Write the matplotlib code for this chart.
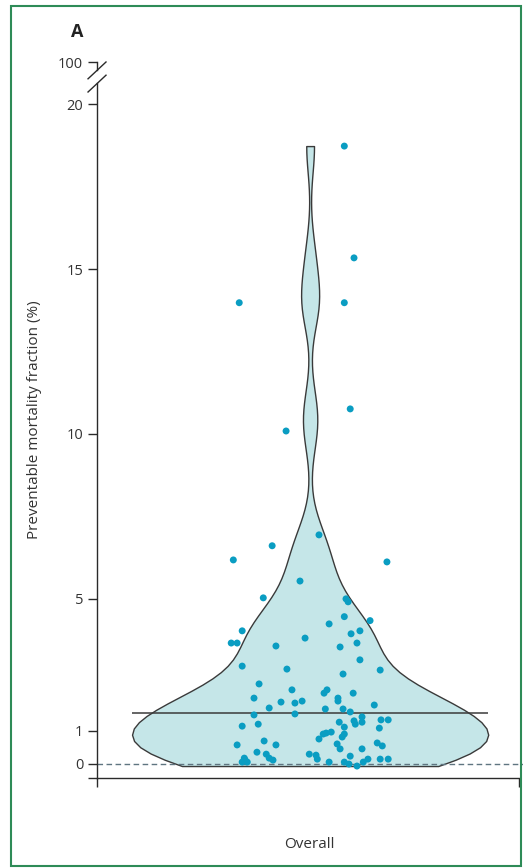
import numpy as np
import matplotlib
matplotlib.use('Agg')
import matplotlib.pyplot as plt
import matplotlib.transforms as mtransforms
from matplotlib.patches import Rectangle

plt.rcParams['font.family'] = ['Open Sans', 'DejaVu Sans']

# preventable mortality fraction (%) per site
values = [18.73, 15.34, 13.98, 13.98, 10.76, 10.09, 6.94, 6.61, 6.18, 6.12,
          5.54, 5.03, 5.00, 4.91, 4.46, 4.34, 4.24, 4.03, 3.94, 4.03,
          3.81, 3.66, 3.66, 3.57, 3.66, 3.54, 2.96, 3.15, 2.87, 2.84,
          2.72, 2.42, 2.24, 2.24, 2.14, 2.14, 1.99, 1.99, 1.90, 1.87,
          1.84, 1.90, 1.69, 1.66, 1.78, 1.66, 1.57, 1.48, 1.51, 1.42,
          1.26, 1.30, 1.20, 1.33, 1.33, 1.26, 1.11, 1.14, 1.20, 1.08,
          0.96, 0.90, 0.93, 0.90, 0.81, 0.75, 0.69, 0.57, 0.57, 0.60,
          0.45, 0.63, 0.54, 0.45, 0.35, 0.29, 0.17, 0.11, 0.29, 0.26,
          0.14, 0.23, 0.17, 0.05, 0.05, 0.11, 0.05, 0.05, -0.01, -0.07,
          0.05, 0.14, 0.14, 0.14]
# horizontal jitter of each point
jitter = [0.081, 0.104, -0.168, 0.081, 0.095, -0.057, 0.021, -0.090, -0.182, 0.182,
          -0.024, -0.111, 0.085, 0.090, 0.081, 0.142, 0.045, -0.161, 0.097, 0.118,
          -0.012, -0.187, -0.173, -0.081, 0.111, 0.071, -0.161, 0.118, -0.055, 0.166,
          0.078, -0.121, -0.043, 0.040, 0.033, 0.102, -0.133, 0.066, 0.066, -0.069,
          -0.036, -0.019, -0.097, 0.036, 0.152, 0.078, 0.095, -0.133, -0.036, 0.123,
          0.123, 0.104, 0.107, 0.168, 0.185, 0.069, 0.081, -0.161, -0.123, 0.164,
          0.050, 0.031, 0.038, 0.081, 0.076, 0.021, -0.109, -0.173, -0.081, 0.064,
          0.071, 0.159, 0.171, 0.123, -0.126, -0.104, -0.097, -0.088, -0.002, 0.014,
          0.017, 0.095, -0.156, -0.161, -0.149, -0.154, 0.045, 0.081, 0.092, 0.111,
          0.126, 0.137, 0.166, 0.185]

tick_vals = [0, 1, 5, 10, 15, 20]
group = 'Overall'

data = np.array(values)
x = np.array(jitter)

fig = plt.figure(figsize=(5.23, 8.68), dpi=100)
ax = fig.add_axes([0.1855, 0.1033, 0.8069, 0.8249])

ybot, ytop = -0.443, 21.27
ax.set_ylim(ybot, ytop)
ax.set_xlim(-0.505, 0.495)

# R style bandwidth (bw.nrd0)
n = len(data)
sd = np.std(data, ddof=1)
iqr = np.subtract(*np.percentile(data, [75, 25]))
bw = 0.9 * min(sd, iqr / 1.34) * n ** -0.2

vp = ax.violinplot(data, positions=[0], widths=0.844, showextrema=False,
                   bw_method=bw / sd)
for b in vp['bodies']:
    b.set_facecolor('#c5e6e8')
    b.set_edgecolor('#3a3a3a')
    b.set_linewidth(1.0)
    b.set_alpha(1)

ax.axhline(0, xmin=0, xmax=1.01, color='#5f7580', lw=1.0, ls=(0, (4, 2.5)),
           clip_on=False, zorder=1)
med = np.median(data)
ax.hlines(med, -0.422, 0.422, color='#3a3a3a', lw=1.1, zorder=3)

ax.scatter(x, data, s=25, color='#0a9dc2', edgecolors='none', zorder=4)

for s in ['top', 'right']:
    ax.spines[s].set_visible(False)
ax.spines['left'].set_bounds(ybot, 20.63)
for s in ['left', 'bottom']:
    ax.spines[s].set_color('#2a2a2a')
    ax.spines[s].set_linewidth(1.0)

ax.set_yticks([ybot] + tick_vals + [ytop])
ax.set_yticklabels([''] + [str(t) for t in tick_vals] + ['100'])
ax.set_xticks([-0.505, 0.495])
ax.set_xticklabels(['', ''])
ax.tick_params(axis='both', direction='out', length=6.5, width=1.0,
               color='#2a2a2a', labelsize=10.5, labelcolor='#333333', pad=3.5)

# axis break
tr = mtransforms.blended_transform_factory(ax.transAxes, ax.transData)
ax.plot([0, 0], [21.03, ytop], transform=tr, color='#2a2a2a', lw=1.0, clip_on=False)
ax.plot([-0.0213, 0.0213], [20.77, 21.28], transform=tr, color='#2a2a2a', lw=1.0, clip_on=False)
ax.plot([-0.0213, 0.0213], [20.37, 20.88], transform=tr, color='#2a2a2a', lw=1.0, clip_on=False)

fig.text(35 / 523, 1 - 420 / 868, 'Preventable mortality fraction (%)', rotation=90,
         ha='center', va='center', fontsize=11, color='#333333')
fig.text(309 / 523, 1 - 845 / 868, group, ha='center', va='center',
         fontsize=11, color='#333333')
fig.text(77 / 523, 1 - 32 / 868, 'A', ha='center', va='center', fontsize=13,
         fontweight='bold', color='#222222')

fig.patches.append(Rectangle((11 / 523, 2 / 868), 510 / 523, 860 / 868,
                             transform=fig.transFigure, fill=False,
                             edgecolor='#2e8b57', lw=1.5))

fig.savefig('out.png', dpi=100)
